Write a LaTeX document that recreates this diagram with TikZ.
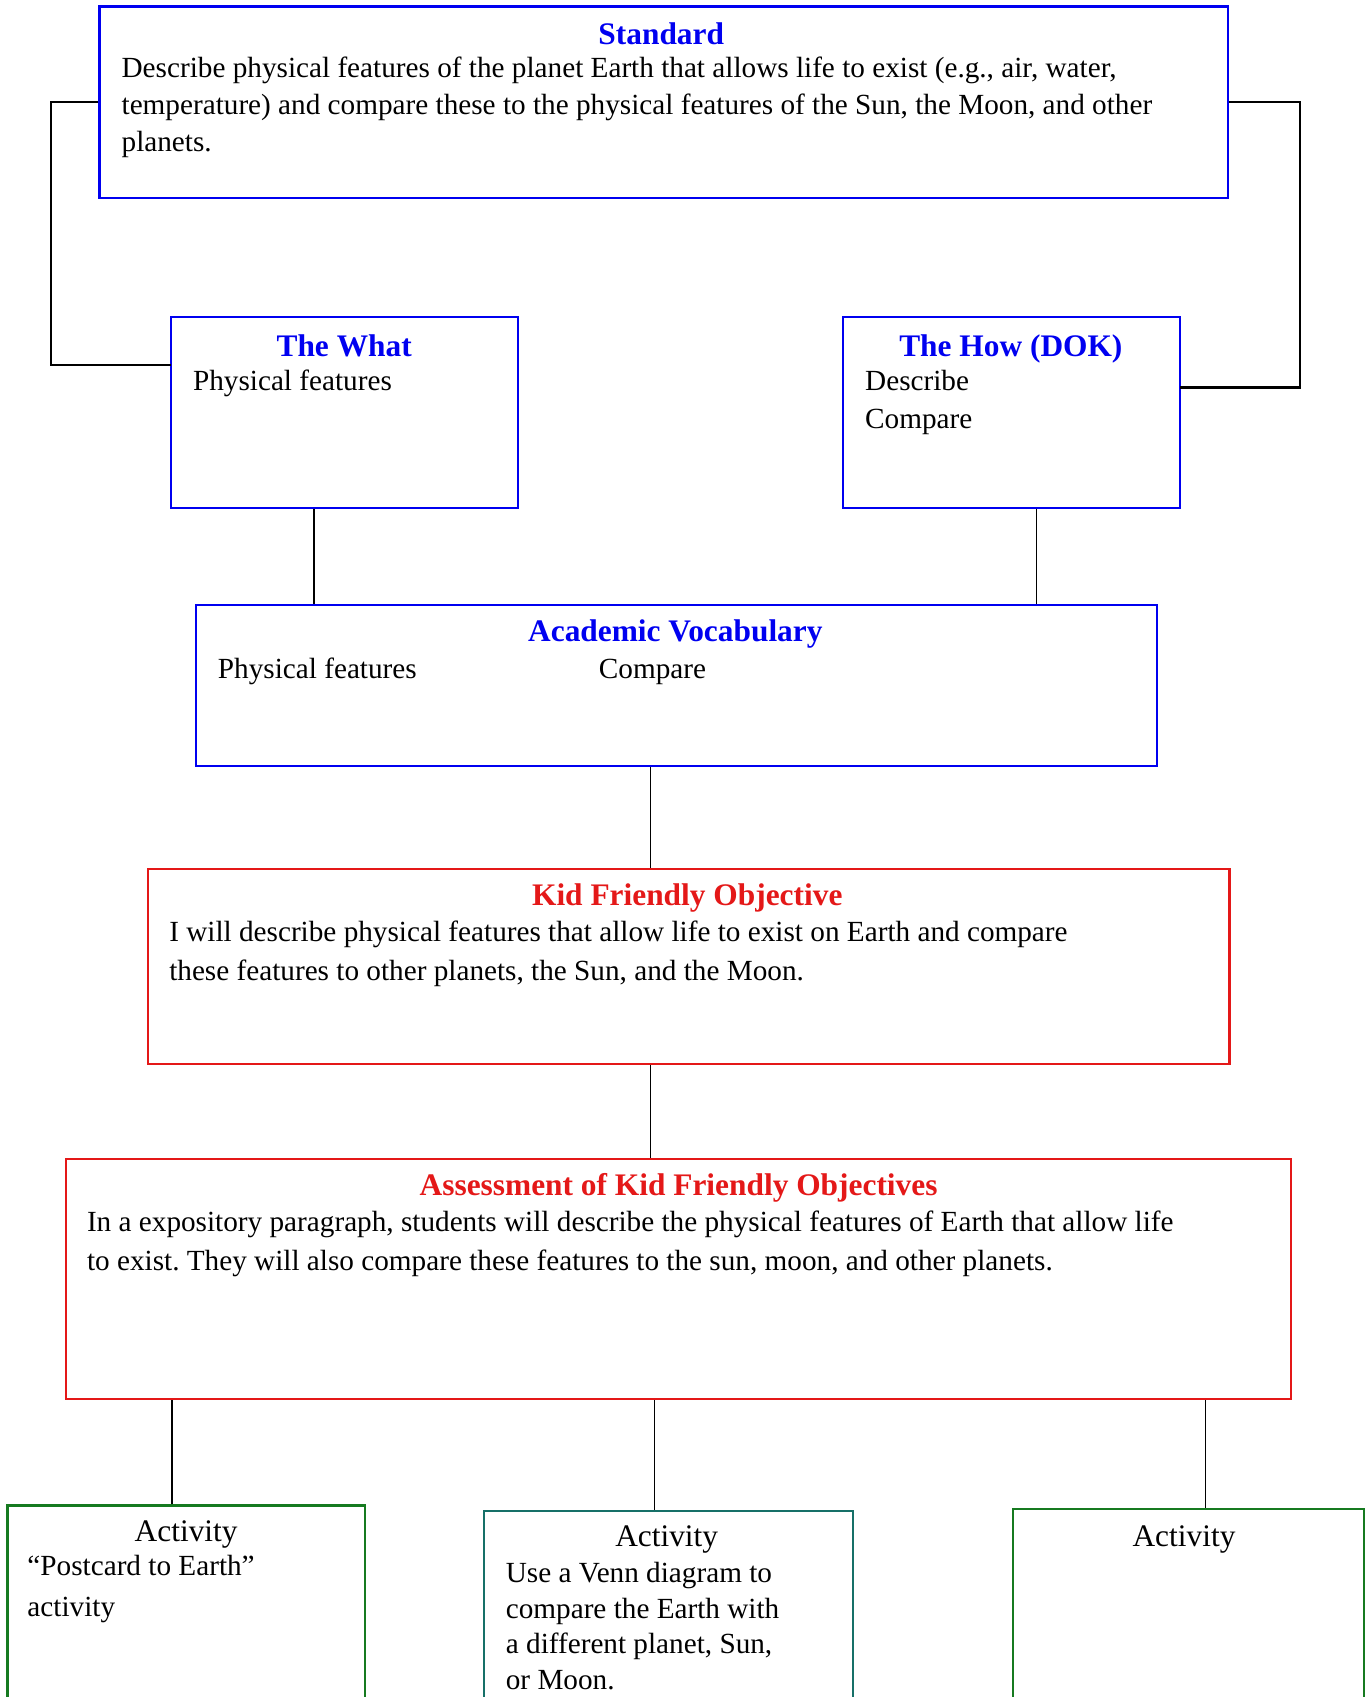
\documentclass[tikz,border=0pt]{standalone}
\usepackage{fontspec}
\setmainfont{Liberation Serif}
\usepackage{tikz}
\usepackage{color}
\frenchspacing

\definecolor{stdblue}{RGB}{0,0,240}
\definecolor{kidred}{RGB}{228,24,24}
\definecolor{actgreen}{RGB}{22,122,32}
\definecolor{actteal}{RGB}{22,112,104}

\tikzset{
  box/.style={draw=#1,line width=1pt,rectangle,inner sep=0pt},
  txt/.style={anchor=base west,inner sep=0pt,font=\fontsize{13.5}{16}\selectfont},
  head/.style={anchor=base,inner sep=0pt,text=#1,font=\fontsize{14.5}{17}\selectfont\bfseries},
  acthead/.style={anchor=base,inner sep=0pt,font=\fontsize{14.5}{17}\selectfont},
  link/.style={draw=black,line width=0.6pt},
  biglink/.style={draw=black,line width=1pt}
}

\begin{document}
\begin{tikzpicture}[x=0.5pt,y=-0.5pt]
\useasboundingbox (0,0) rectangle (1264,1568);

% boxes
\node[box=stdblue,minimum width=521.5pt,minimum height=88.5pt] (std) at (613.5,94.5) {};
\node[box=stdblue,minimum width=160.5pt,minimum height=88pt] (what) at (318.5,381) {};
\node[box=stdblue,minimum width=155.5pt,minimum height=88pt] (how) at (934.5,381) {};
\node[box=stdblue,minimum width=444pt,minimum height=74.5pt] (vocab) at (625,633.5) {};
\node[box=kidred,minimum width=499.5pt,minimum height=90pt] (kid) at (636.5,893) {};
\node[box=kidred,minimum width=566pt,minimum height=111pt] (assess) at (627,1182) {};
\node[box=actgreen,minimum width=165pt,minimum height=104.5pt] (act1) at (172,1495.5) {};
\node[box=actteal,minimum width=170.5pt,minimum height=102pt] (act2) at (617.5,1498) {};
\node[box=actgreen,minimum width=162pt,minimum height=103pt] (act3) at (1098,1497) {};

% texts
\node[head=stdblue] (stdhead) at (611,41) {Standard};
\node[txt] (std1) at (112,72) {Describe physical features of the planet Earth that allows life to exist (e.g., air, water,};
\node[txt] (std2) at (112,106) {temperature) and compare these to the physical features of the Sun, the Moon, and other};
\node[txt] (std3) at (112,140) {planets.};

\node[head=stdblue] (whathead) at (318,329) {The What};
\node[txt] (what1) at (178,361) {Physical features};

\node[head=stdblue] (howhead) at (934,329) {The How (DOK)};
\node[txt] (how1) at (799,361) {Describe};
\node[txt] (how2) at (799,396) {Compare};

\node[head=stdblue] (vocabhead) at (624,593) {Academic Vocabulary};
\node[txt] (vocab1) at (201,627) {Physical features};
\node[txt] (vocab2) at (553,627) {Compare};

\node[head=kidred] (kidhead) at (635,837) {Kid Friendly Objective};
\node[txt] (kid1) at (156,870) {I will describe physical features that allow life to exist on Earth and compare};
\node[txt] (kid2) at (156,906) {these features to other planets, the Sun, and the Moon.};

\node[head=kidred] (assesshead) at (627,1105) {Assessment of Kid Friendly Objectives};
\node[txt] (assess1) at (80,1138) {In a expository paragraph, students will describe the physical features of Earth that allow life};
\node[txt] (assess2) at (80,1174) {to exist. They will also compare these features to the sun, moon, and other planets.};

\node[acthead] (act1head) at (172,1424) {Activity};
\node[txt] (act11) at (25,1456) {“Postcard to Earth”};
\node[txt] (act12) at (25,1494) {activity};

\node[acthead] (act2head) at (616,1429) {Activity};
\node[txt] (act21) at (467,1462) {Use a Venn diagram to};
\node[txt] (act22) at (467,1495) {compare the Earth with};
\node[txt] (act23) at (467,1528) {a different planet, Sun,};
\node[txt] (act24) at (467,1561) {or Moon.};

\node[acthead] (act3head) at (1094,1429) {Activity};

% connectors
\coordinate (whatin) at (158,337);
\coordinate (howin) at (1090,358);
\draw[biglink] (std.west) -- ++(-44,0) |- (whatin);
\draw[biglink] (std.east) -- ++(65,0) |- (howin);
\draw[biglink] ([xshift=66.5pt]what.south west) -- ([xshift=66.5pt]what.south west |- vocab.north);
\draw[link] ([xshift=90pt]how.south west) -- ([xshift=90pt]how.south west |- vocab.north);
\draw[link] ([xshift=-12pt]vocab.south) -- ([xshift=-12pt]vocab.south |- kid.north);
\draw[link] ([xshift=-17.75pt]kid.south) -- ([xshift=-17.75pt]kid.south |- assess.north);
\draw[link] ([xshift=-6.5pt]act1.north) -- ([xshift=-6.5pt]act1.north |- assess.south);
\draw[link] ([xshift=-6.25pt]act2.north) -- ([xshift=-6.25pt]act2.north |- assess.south);
\draw[link] ([xshift=8pt]act3.north) -- ([xshift=8pt]act3.north |- assess.south);

\end{tikzpicture}
\end{document}
